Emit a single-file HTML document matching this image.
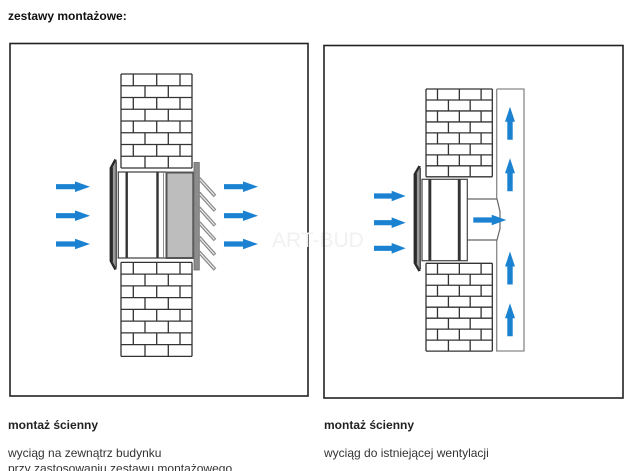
<!DOCTYPE html>
<html>
<head>
<meta charset="utf-8">
<style>
  html,body{margin:0;padding:0;background:#fff;}
  body{width:640px;height:471px;overflow:hidden;position:relative;}
  svg{position:absolute;left:0;top:0;}
  text{font-family:"Liberation Sans", Arial, sans-serif;}
</style>
</head>
<body>
<svg width="640" height="471" viewBox="0 0 640 471" xmlns="http://www.w3.org/2000/svg">
  <defs>
    <path id="wall" fill="#fff" stroke="#333" stroke-width="1.3" vector-effect="non-scaling-stroke"
      d="M0,0H71M0,11.75H71M0,23.5H71M0,35.25H71M0,47H71M0,58.75H71M0,70.5H71M0,82.25H71M0,94H71
         M0,0V94M71,0V94
         M12.3,0V11.75M35.7,0V11.75M59,0V11.75
         M24,11.75V23.5M47.3,11.75V23.5
         M12.3,23.5V35.25M35.7,23.5V35.25M59,23.5V35.25
         M24,35.25V47M47.3,35.25V47
         M12.3,47V58.75M35.7,47V58.75M59,47V58.75
         M24,58.75V70.5M47.3,58.75V70.5
         M12.3,70.5V82.25M35.7,70.5V82.25M59,70.5V82.25
         M24,82.25V94M47.3,82.25V94"/>
    <path id="arrR" fill="#1b82d1" d="M0,-2.6H19V-5.3L34,0L19,5.3V2.6H0Z"/>
    <path id="arrU" fill="#1b82d1" d="M0,0L5,15H2.7V33H-2.7V15H-5Z"/>
    <g id="grille">
      <!-- local coords: top at y=0, height 110, inner edge at x=6.8 -->
      <path d="M5.5,0L0,8.5V101.5L5.5,110H6.8V0Z" fill="#9a9a9a"/>
      <path d="M5.5,0L0.8,8.5V101.5L5.5,110" fill="none" stroke="#2a2a2a" stroke-width="2.4"/>
      <line x1="1.8" y1="8" x2="1.8" y2="102" stroke="#2a2a2a" stroke-width="2.2"/>
      <line x1="6.2" y1="2" x2="6.2" y2="108" stroke="#333" stroke-width="1.1"/>
    </g>
  </defs>

  <!-- title -->
  <text x="8" y="20" font-size="12" font-weight="bold" fill="#111">zestawy montażowe:</text>

  <!-- ===== LEFT PANEL ===== -->
  <rect x="10" y="43.5" width="298" height="352.5" fill="none" stroke="#222" stroke-width="1.6"/>

  <use href="#wall" transform="translate(121,74)"/>
  <use href="#wall" transform="translate(121,262.4)"/>

  <!-- fan housing -->
  <path d="M117.5,172H166M117.5,258H166M118.3,172V258" stroke="#444" stroke-width="1.2" fill="none"/>
  <rect x="125.5" y="172" width="2.4" height="86" fill="#333"/>
  <rect x="156.3" y="172" width="2.4" height="86" fill="#333"/>
  <line x1="163.5" y1="172" x2="163.5" y2="258" stroke="#777" stroke-width="0.8"/>
  <!-- grey filter box -->
  <rect x="166.5" y="172.5" width="26.8" height="85.5" fill="#bdbdbd" stroke="#555" stroke-width="2"/>
  <!-- outer plate -->
  <rect x="194" y="162.5" width="5.3" height="107.5" fill="#8c8c8c" stroke="#6a6a6a" stroke-width="0.8"/>
  <!-- louvres -->
  <g stroke="#8a8a8a" stroke-width="3.6" stroke-linecap="butt">
    <line x1="199" y1="178.3" x2="215" y2="196"/>
    <line x1="199" y1="193" x2="215" y2="210.7"/>
    <line x1="199" y1="207.7" x2="215" y2="225.4"/>
    <line x1="199" y1="222.4" x2="215" y2="240.1"/>
    <line x1="199" y1="237.1" x2="215" y2="254.8"/>
    <line x1="199" y1="251.8" x2="215" y2="269.5"/>
  </g>
  <g stroke="#f2f2f2" stroke-width="1.1">
    <line x1="200" y1="179.4" x2="214.4" y2="195.3"/>
    <line x1="200" y1="194.1" x2="214.4" y2="210"/>
    <line x1="200" y1="208.8" x2="214.4" y2="224.7"/>
    <line x1="200" y1="223.5" x2="214.4" y2="239.4"/>
    <line x1="200" y1="238.2" x2="214.4" y2="254.1"/>
    <line x1="200" y1="252.9" x2="214.4" y2="268.8"/>
  </g>
  <!-- grille -->
  <use href="#grille" transform="translate(110,159.5)"/>

  <!-- arrows left -->
  <use href="#arrR" transform="translate(56,186.7)"/>
  <use href="#arrR" transform="translate(56,215.7)"/>
  <use href="#arrR" transform="translate(56,244)"/>
  <use href="#arrR" transform="translate(224,186.7)"/>
  <use href="#arrR" transform="translate(224,215.7)"/>
  <use href="#arrR" transform="translate(224,244)"/>

  <!-- watermark -->
  <text x="272" y="247" font-size="21" fill="#f1f1f1">ART-BUD</text>

  <!-- ===== RIGHT PANEL ===== -->
  <rect x="324" y="45.5" width="299" height="352.5" fill="none" stroke="#222" stroke-width="1.6"/>

  <use href="#wall" transform="translate(426,89) scale(0.934)"/>
  <use href="#wall" transform="translate(426,263.3) scale(0.934)"/>

  <!-- duct -->
  <path d="M496.7,89V199M496.7,240V351H524V89H496.7" stroke="#888" stroke-width="1.3" fill="none"/>
  <!-- connector -->
  <path d="M467.3,199H497L500,211.5V228.5L497,240H467.3" stroke="#666" stroke-width="1.2" fill="none"/>

  <!-- fan -->
  <rect x="422" y="179.3" width="45.3" height="81.4" fill="#fff" stroke="#444" stroke-width="1.2"/>
  <rect x="428.4" y="179.3" width="2.9" height="81.4" fill="#333"/>
  <rect x="457.8" y="179.3" width="2.9" height="81.4" fill="#333"/>
  <use href="#grille" transform="translate(414,166) scale(1,0.955)"/>

  <!-- arrows right panel -->
  <use href="#arrR" transform="translate(374,196) scale(0.93,1)"/>
  <use href="#arrR" transform="translate(374,222.7) scale(0.93,1)"/>
  <use href="#arrR" transform="translate(374,248.3) scale(0.93,1)"/>
  <use href="#arrR" transform="translate(473.3,220) scale(0.97,1)"/>

  <use href="#arrU" transform="translate(510,106.7)"/>
  <use href="#arrU" transform="translate(510,158.3)"/>
  <use href="#arrU" transform="translate(510,251.5)"/>
  <use href="#arrU" transform="translate(510,303.3)"/>

  <!-- captions -->
  <text x="8" y="429" font-size="12" font-weight="bold" fill="#222">montaż ścienny</text>
  <text x="8" y="457" font-size="12" fill="#333">wyciąg na zewnątrz budynku</text>
  <text x="8" y="472.5" font-size="12" fill="#333">przy zastosowaniu zestawu montażowego</text>

  <text x="324" y="429" font-size="12" font-weight="bold" fill="#222">montaż ścienny</text>
  <text x="324" y="457" font-size="12" fill="#333">wyciąg do istniejącej wentylacji</text>
</svg>
</body>
</html>
